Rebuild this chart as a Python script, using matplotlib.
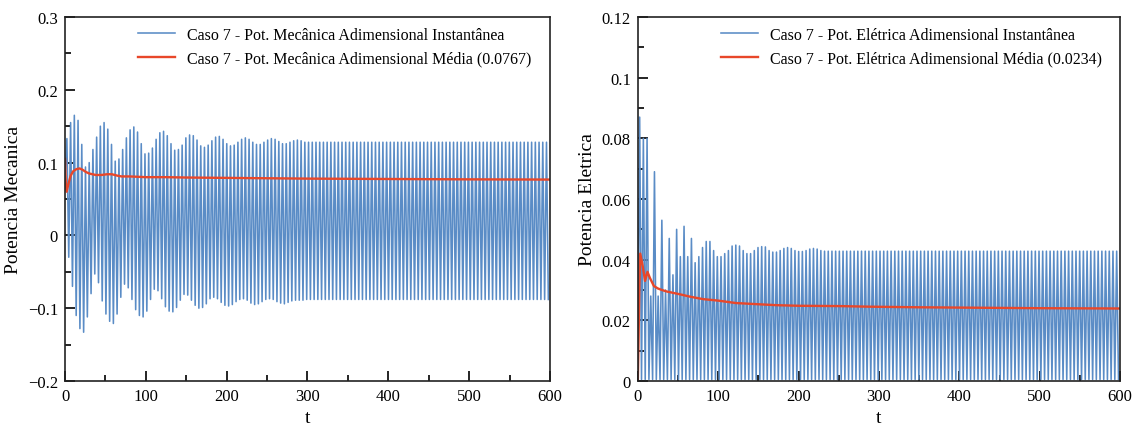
import numpy as np
import matplotlib
matplotlib.use("Agg")
import matplotlib.pyplot as plt
from matplotlib.ticker import MultipleLocator, FuncFormatter

plt.rcParams['font.family'] = ['Liberation Serif', 'DejaVu Serif']

# ---------------- data ----------------
half_period = 2.3          # time between successive extrema of the oscillation
n_cycles = 130

# Left panel: mechanical power, upper extrema per cycle
mec_peaks = [0.133, 0.155, 0.165, 0.158, 0.125, 0.094, 0.100, 0.118, 0.135, 0.150,
             0.155, 0.146, 0.125, 0.102, 0.105, 0.118, 0.134, 0.145, 0.149, 0.142,
             0.126, 0.112, 0.113, 0.120, 0.132, 0.141, 0.143, 0.137, 0.126, 0.117,
             0.118, 0.124, 0.134, 0.138, 0.137, 0.131, 0.123, 0.121, 0.124, 0.130,
             0.135, 0.136, 0.132, 0.126, 0.123, 0.124, 0.128, 0.132, 0.134, 0.132,
             0.128, 0.125, 0.125, 0.128, 0.131, 0.133, 0.132, 0.129, 0.126, 0.126,
             0.128, 0.130, 0.131, 0.130, 0.128] + [0.128] * 65
# Left panel: lower extrema per cycle
mec_troughs = [-0.030, -0.070, -0.110, -0.128, -0.133, -0.112, -0.080, -0.053, -0.065, -0.090,
               -0.108, -0.118, -0.121, -0.108, -0.085, -0.067, -0.072, -0.088, -0.102, -0.110,
               -0.112, -0.104, -0.088, -0.074, -0.076, -0.087, -0.098, -0.104, -0.105, -0.099,
               -0.089, -0.081, -0.082, -0.089, -0.096, -0.100, -0.099, -0.094, -0.087, -0.085,
               -0.087, -0.092, -0.096, -0.097, -0.095, -0.091, -0.088, -0.087, -0.089, -0.093,
               -0.095, -0.094, -0.091, -0.088, -0.087, -0.088, -0.091, -0.093, -0.094, -0.092,
               -0.090, -0.089, -0.089, -0.089, -0.088] + [-0.088] * 65
mec_start = 0.08

# Left panel: running mean
mec_mean_t = [0, 1, 2, 4, 7, 10, 14, 18, 22, 26, 30, 38, 45, 52, 58, 65, 70,
              80, 90, 100, 125, 150, 200, 250, 300, 400, 500, 600]
mec_mean_v = [0.105, 0.070, 0.060, 0.070, 0.082, 0.088, 0.091, 0.092, 0.090, 0.087,
              0.085, 0.083, 0.083, 0.084, 0.084, 0.082, 0.081, 0.081, 0.0805, 0.080,
              0.080, 0.0795, 0.079, 0.0785, 0.078, 0.0775, 0.077, 0.0767]

# Right panel: electrical power, upper extrema per cycle
ele_peaks = [0.087, 0.080, 0.080, 0.028, 0.069, 0.028, 0.053, 0.030, 0.047, 0.035,
             0.050, 0.041, 0.051, 0.041, 0.047, 0.039, 0.041, 0.044, 0.046, 0.046,
             0.043, 0.041, 0.041, 0.042, 0.043, 0.0445, 0.0448, 0.0445, 0.043, 0.042,
             0.042, 0.043, 0.044, 0.0443, 0.0442, 0.043, 0.0425, 0.0425, 0.043, 0.0437,
             0.044, 0.0437, 0.043, 0.0427, 0.0427, 0.043, 0.0435, 0.0437, 0.0435, 0.043,
             0.0428] + [0.0428] * 79
ele_troughs = [0.0005] * 130
ele_start = 0.0

# Right panel: running mean
ele_mean_t = [0, 1, 2, 3, 6, 9, 12, 15, 20, 25, 30, 36, 45, 52, 65, 81,
              100, 122, 150, 172, 200, 250, 288, 350, 400, 500, 600]
ele_mean_v = [0.0, 0.015, 0.032, 0.042, 0.038, 0.033, 0.036, 0.034, 0.0313, 0.0305,
              0.0300, 0.0295, 0.0290, 0.0286, 0.0278, 0.0270, 0.0265, 0.0257, 0.0253,
              0.0250, 0.0248, 0.0247, 0.0245, 0.0243, 0.0242, 0.0240, 0.0239]

labels_left = ['Caso 7 - Pot. Mecânica Adimensional Instantânea',
               'Caso 7 - Pot. Mecânica Adimensional Média (0.0767)']
labels_right = ['Caso 7 - Pot. Elétrica Adimensional Instantânea',
                'Caso 7 - Pot. Elétrica Adimensional Média (0.0234)']

BLUE = '#5a8cc6'
RED = '#e8472a'


def build_signal(start, peaks, troughs):
    vals = [start]
    for p, tr in zip(peaks, troughs):
        vals.append(p)
        vals.append(tr)
    t = np.arange(len(vals)) * half_period
    return t, np.array(vals)


def fmt(v, pos):
    if abs(v) < 1e-12:
        return '0'
    s = ('%.2f' % v).rstrip('0').rstrip('.')
    return s.replace('-', '\u2212')


fig = plt.figure(figsize=(11.41, 4.31), dpi=100)
axL = fig.add_axes([0.057, 0.1137, 0.425, 0.8445])
axR = fig.add_axes([0.559, 0.1137, 0.4227, 0.8445])

panels = [
    (axL, mec_start, mec_peaks, mec_troughs, mec_mean_t, mec_mean_v, labels_left,
     (-0.2, 0.3), 0.1, 0.05, 'Potencia Mecanica', (0.138, 0.99)),
    (axR, ele_start, ele_peaks, ele_troughs, ele_mean_t, ele_mean_v, labels_right,
     (0.0, 0.12), 0.02, 0.01, 'Potencia Eletrica', (0.16, 0.99)),
]

for ax, st, pk, tr, mt, mv, labs, ylim, maj, mnr, ylab, lpos in panels:
    t, v = build_signal(st, pk, tr)
    ax.plot(t, v, color=BLUE, lw=1.15, label=labs[0])
    ax.plot(mt, mv, color=RED, lw=1.7, label=labs[1])
    ax.set_xlim(0, 600)
    ax.set_ylim(*ylim)
    ax.xaxis.set_major_locator(MultipleLocator(100))
    ax.xaxis.set_minor_locator(MultipleLocator(50))
    ax.yaxis.set_major_locator(MultipleLocator(maj))
    ax.yaxis.set_minor_locator(MultipleLocator(mnr))
    ax.yaxis.set_major_formatter(FuncFormatter(fmt))
    ax.tick_params(which='both', direction='in', top=False, right=False,
                   labelsize=12, width=1.2, pad=5)
    ax.tick_params(which='major', length=7)
    ax.tick_params(which='minor', length=4)
    for sp in ax.spines.values():
        sp.set_linewidth(1.2)
        sp.set_color('#222222')
    ax.set_xlabel('t', fontsize=14, labelpad=4)
    ax.set_ylabel(ylab, fontsize=14, labelpad=4)
    ax.legend(loc='upper left', bbox_to_anchor=lpos, frameon=False, fontsize=11.5,
              handlelength=2.3, handletextpad=0.75, labelspacing=0.45, borderaxespad=0)

fig.savefig('out.png', dpi=100)
